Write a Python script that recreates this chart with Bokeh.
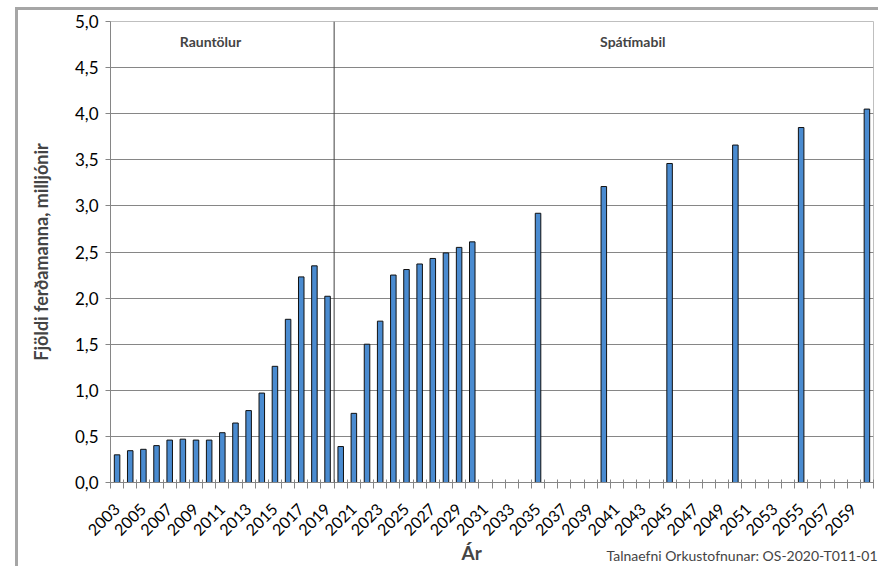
from bokeh.plotting import figure
from bokeh.models import FixedTicker, CustomJSTickFormatter, Label, Span, Title
from bokeh.embed import file_html
from bokeh.resources import INLINE
import math

years = [2003, 2004, 2005, 2006, 2007, 2008, 2009, 2010, 2011, 2012, 2013, 2014,
         2015, 2016, 2017, 2018, 2019, 2020, 2021, 2022, 2023, 2024, 2025, 2026,
         2027, 2028, 2029, 2030, 2035, 2040, 2045, 2050, 2055, 2060]
visitors = [0.30, 0.345, 0.36, 0.40, 0.46, 0.47, 0.46, 0.46, 0.54, 0.645, 0.78, 0.97,
            1.26, 1.77, 2.23, 2.35, 2.02, 0.39, 0.75, 1.50, 1.75, 2.25, 2.31, 2.37,
            2.43, 2.49, 2.55, 2.61, 2.92, 3.21, 3.46, 3.66, 3.85, 4.05]
tick_years = list(range(2003, 2060, 2))
y_ticks = [0.0, 0.5, 1.0, 1.5, 2.0, 2.5, 3.0, 3.5, 4.0, 4.5, 5.0]
period_labels = ["Rauntölur", "Spátímabil"]
source_text = "Talnaefni Orkustofnunar: OS-2020-T011-01"
y_title = "Fjöldi ferðamanna, milljónir"
x_title = "Ár"

FONT = "Lato"

p = figure(width=863, height=559, output_backend="svg", toolbar_location=None,
           x_range=(2002.5, 2060.5), y_range=(0, 5),
           min_border_left=95, min_border_right=5, min_border_top=14,
           min_border_bottom=84)
p.styles = {"margin-left": "15px", "margin-top": "7px",
            "box-shadow": "inset 3px 3px 0 0 #a6a6a6"}

p.vbar(x=years, top=visitors, width=0.42, fill_color="#4A8BD0",
       line_color="#111111", line_width=1)

# x axis
p.xaxis.ticker = FixedTicker(ticks=tick_years,
                             minor_ticks=[y - 0.5 for y in range(2003, 2062)])
p.xaxis.major_label_orientation = math.pi / 4
p.xaxis.major_tick_in = 0
p.xaxis.major_tick_out = 0
p.xaxis.minor_tick_in = 3
p.xaxis.minor_tick_out = 6
p.xaxis.minor_tick_line_color = "#868686"
p.xaxis.axis_line_color = "#868686"
p.xaxis.major_label_text_font = FONT
p.xaxis.major_label_text_font_size = "16px"
p.xaxis.major_label_text_color = "#000000"
p.xaxis.major_label_standoff = 18
p.xgrid.visible = False

# y axis
p.yaxis.ticker = FixedTicker(ticks=y_ticks)
p.yaxis.formatter = CustomJSTickFormatter(code="return tick.toFixed(1).replace('.', ',');")
p.yaxis.major_tick_in = 0
p.yaxis.major_tick_out = 5
p.yaxis.minor_tick_line_color = None
p.yaxis.major_tick_line_color = "#868686"
p.yaxis.axis_line_color = "#868686"
p.yaxis.major_label_text_font = FONT
p.yaxis.major_label_text_font_size = "17px"
p.yaxis.major_label_text_color = "#000000"
p.yaxis.major_label_standoff = 7
p.yaxis.axis_label = y_title
p.yaxis.axis_label_text_font = FONT
p.yaxis.axis_label_text_font_style = "bold"
p.yaxis.axis_label_text_font_size = "18px"
p.yaxis.axis_label_standoff = 20
p.ygrid.grid_line_color = "#868686"
p.ygrid.grid_line_width = 1

p.outline_line_color = "#bfbfbf"
p.background_fill_color = "white"
p.border_fill_color = None

# divider between actual and forecast
p.add_layout(Span(location=2019.5, dimension="height", line_color="#404040", line_width=1))

p.add_layout(Label(x=2010.1, y=4.78, text=period_labels[0], text_font=FONT,
                   text_font_style="bold", text_font_size="14px",
                   text_align="center", text_baseline="middle"))
p.add_layout(Label(x=2042.2, y=4.78, text=period_labels[1], text_font=FONT,
                   text_font_style="bold", text_font_size="14px",
                   text_align="center", text_baseline="middle"))

# x title and source line
p.add_layout(Title(text=x_title, align="left", offset=351, text_font=FONT,
                   text_font_style="bold", text_font_size="19px",
                   vertical_align="top", standoff=-6), "below")
p.add_layout(Title(text=source_text, align="right", offset=-4, text_font=FONT,
                   text_font_style="normal", text_font_size="14px",
                   vertical_align="top", standoff=-32), "below")

open("out.html", "w").write(file_html(p, INLINE))
